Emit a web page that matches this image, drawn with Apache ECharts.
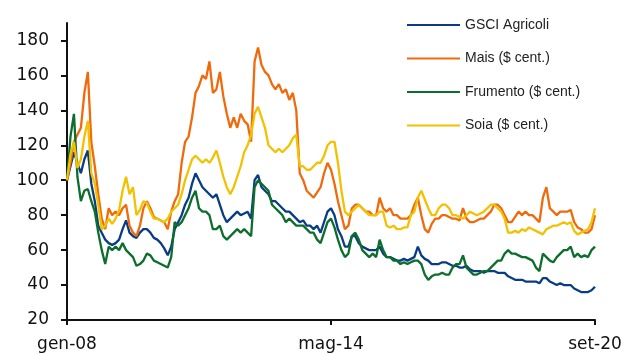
<!DOCTYPE html>
<html>
<head>
<meta charset="utf-8">
<script src="https://cdn.jsdelivr.net/npm/echarts@6/dist/echarts.min.js"></script>
<style>
  html, body { margin: 0; padding: 0; background: #fff; }
  #chart { width: 628px; height: 354px; }
</style>
</head>
<body>
<div id="chart"></div>
<script>
var chartDom = document.getElementById('chart');
var myChart = echarts.init(chartDom);
var option;

// mesi da gen-08 a set-20 (dati mensili, base gen-08 = 100)
var monthNames = ['gen', 'feb', 'mar', 'apr', 'mag', 'giu', 'lug', 'ago', 'set', 'ott', 'nov', 'dic'];
var tickLabels = ['gen-08', 'mag-14', 'set-20'];
var yTicks = [20, 40, 60, 80, 100, 120, 140, 160, 180];

var seriesNames = ['GSCI Agricoli', 'Mais ($ cent.)', 'Frumento ($ cent.)', 'Soia ($ cent.)'];

var gsciAgricoli = [
  100, 108, 116, 110, 104, 112, 117, 98, 88, 74, 70, 66,
  64, 63, 64, 66, 72, 77, 70, 68, 67, 70, 72, 72,
  70, 67, 66, 64, 61, 57, 62, 72, 76, 80, 86, 90,
  98, 104, 100, 96, 94, 92, 90, 92, 86, 80, 76, 78,
  80, 82, 80, 81, 82, 78, 100, 103, 96, 94, 92, 88,
  88, 86, 84, 82, 82, 80, 78, 76, 77, 74, 74, 72,
  74, 70, 76, 82, 84, 80, 72, 68, 62, 62, 68, 68,
  64, 62, 61, 60, 60, 60, 62, 58, 56, 56, 55, 54,
  54, 55, 54, 55, 56, 62, 57, 55, 54, 52, 52, 52,
  53, 53, 52, 51, 51, 50, 50, 51, 49, 48, 48, 48,
  47, 48, 48, 48, 47, 47, 47, 45, 44, 43, 43, 43,
  42, 42, 42, 42, 41, 44, 44, 42, 41, 40, 41, 40,
  40, 40, 38, 37, 36, 36, 36, 37, 39
];

var mais = [
  100, 110, 122, 126, 130, 150, 162, 122, 108, 92, 78, 72,
  84, 80, 82, 80, 84, 86, 74, 70, 68, 74, 84, 88,
  84, 79, 78, 77, 76, 72, 82, 88, 92, 110, 122, 125,
  136, 150, 154, 160, 158, 168, 150, 152, 162, 148, 138, 130,
  136, 130, 138, 134, 132, 122, 168, 176, 166, 162, 160, 155,
  152, 155, 150, 152, 146, 150, 140, 104, 100, 94, 92, 90,
  93, 96, 104, 110, 106, 98, 88, 80, 72, 74, 84, 86,
  86, 84, 82, 82, 80, 80, 90, 84, 82, 84, 80, 80,
  78, 78, 78, 80, 86, 90, 80, 72, 70, 75, 78, 78,
  80, 80, 79, 78, 78, 77, 84, 78, 76, 76, 77, 78,
  78, 80, 82, 86, 86, 84, 80, 76, 76, 79, 82, 80,
  82, 80, 80, 78, 76, 90, 96, 84, 82, 80, 82, 82,
  82, 83, 76, 73, 72, 70, 70, 72, 80
];

var frumento = [
  100, 125, 138, 102, 88, 94, 95, 88, 82, 70, 60, 52,
  62, 60, 62, 60, 64, 60, 58, 56, 51, 52, 54, 58,
  57, 54, 53, 52, 51, 50, 56, 76, 74, 76, 80, 84,
  90, 94, 84, 82, 82, 80, 72, 72, 74, 68, 66, 68,
  70, 72, 70, 72, 70, 68, 96, 100, 98, 96, 94, 86,
  84, 82, 80, 76, 78, 76, 74, 74, 74, 72, 70, 70,
  66, 64, 70, 76, 78, 73, 66, 60, 56, 58, 68, 70,
  66, 60, 58, 56, 58, 56, 66, 60, 56, 56, 54, 54,
  52, 53, 52, 53, 54, 54, 52, 46, 43, 45, 46, 46,
  47, 46, 46, 50, 52, 52, 57, 50, 48, 46, 46, 47,
  48, 48, 50, 52, 54, 54, 58, 60, 58, 58, 57, 56,
  56, 55, 54, 50, 48, 58, 56, 54, 53, 56, 58, 60,
  60, 62, 56, 58, 56, 57, 56, 60, 62
];

var soia = [
  100, 115, 122, 107, 112, 125, 134, 104, 98, 86, 72, 74,
  78, 75, 78, 83, 94, 102, 92, 96, 80, 83, 88, 87,
  82, 78, 78, 77, 76, 78, 82, 84, 86, 92, 100, 106,
  112, 114, 112, 110, 112, 110, 113, 117, 110, 102, 96, 92,
  96, 102, 108, 116, 120, 126, 138, 142, 136, 130, 120, 118,
  116, 118, 116, 118, 120, 124, 126, 108, 108, 106, 106, 108,
  110, 110, 114, 120, 122, 122, 110, 94, 82, 80, 82, 84,
  86, 84, 82, 80, 80, 80, 82, 82, 74, 73, 74, 72,
  72, 73, 73, 80, 82, 90, 94, 89, 84, 80, 80, 84,
  86, 86, 84, 80, 80, 79, 78, 80, 82, 81, 80, 81,
  82, 84, 86, 86, 84, 82, 78, 70, 70, 71, 70, 72,
  71, 73, 72, 71, 70, 69, 72, 73, 74, 74, 75, 76,
  75, 76, 71, 69, 70, 71, 72, 76, 84
];

var seriesColors = ['#0a3c86', '#f06a0c', '#0c6e2c', '#f2c100'];

// etichette mensili per l'asse delle categorie
var categories = [];
for (var i = 0; i < gsciAgricoli.length; i++) {
  var yy = 8 + Math.floor(i / 12);
  categories.push(monthNames[i % 12] + '-' + (yy < 10 ? '0' + yy : '' + yy));
}

function showTick(index, value) {
  return tickLabels.indexOf(value) !== -1;
}

var dataSets = [gsciAgricoli, mais, frumento, soia];

option = {
  animation: false,
  color: seriesColors,
  textStyle: { fontFamily: 'Liberation Sans, Arial, sans-serif' },
  grid: { left: 67, right: 33, top: 23, bottom: 34 },
  legend: {
    orient: 'vertical',
    left: 402,
    top: 13,
    icon: 'rect',
    itemWidth: 53,
    itemHeight: 2,
    itemGap: 19.5,
    data: seriesNames,
    textStyle: { fontSize: 14, color: '#222', lineHeight: 14, fontFamily: 'Liberation Sans, Arial, sans-serif' }
  },
  xAxis: {
    type: 'category',
    data: categories,
    boundaryGap: false,
    axisLine: { lineStyle: { color: '#111', width: 2 } },
    axisTick: { show: true, interval: showTick, length: 5, lineStyle: { color: '#111', width: 2 } },
    axisLabel: {
      interval: showTick,
      margin: 16,
      fontSize: 17,
      color: '#111',
      fontFamily: 'DejaVu Sans, sans-serif'
    },
    splitLine: { show: false }
  },
  yAxis: {
    type: 'value',
    min: 20,
    max: 190,
    interval: 20,
    axisLine: { show: true, lineStyle: { color: '#111', width: 2 } },
    axisTick: { show: true, length: 6, customValues: yTicks, lineStyle: { color: '#111', width: 2 } },
    axisLabel: {
      customValues: yTicks,
      margin: 18,
      fontSize: 17,
      color: '#111',
      fontFamily: 'DejaVu Sans, sans-serif'
    },
    splitLine: { show: false }
  },
  series: seriesNames.map(function (name, k) {
    return {
      name: name,
      type: 'line',
      data: dataSets[k],
      showSymbol: false,
      symbol: 'none',
      lineStyle: { width: 2.3, color: seriesColors[k] },
      itemStyle: { color: seriesColors[k] }
    };
  })
};

myChart.setOption(option);
</script>
</body>
</html>
